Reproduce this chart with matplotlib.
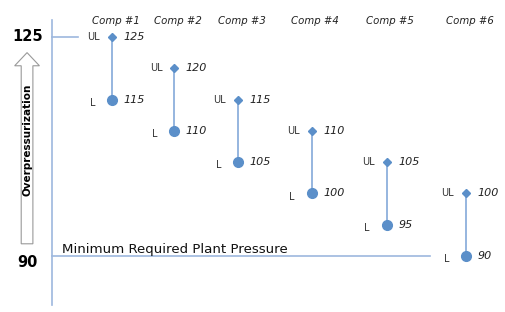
import matplotlib
matplotlib.use("Agg")
import matplotlib.pyplot as plt
from matplotlib.patches import FancyArrow

# data
comps = ["Comp #1", "Comp #2", "Comp #3", "Comp #4", "Comp #5", "Comp #6"]
upper = [125, 120, 115, 110, 105, 100]
lower = [115, 110, 105, 100, 95, 90]
y_ticks = [125, 90]
min_pressure = 90
min_label = "Minimum Required Plant Pressure"
arrow_label = "Overpressurization"

# horizontal placement of the component columns (uneven, as in the slide)
col_x = [1.0, 1.88, 2.78, 3.82, 4.88, 6.0]

blue = "#5b8fc9"
line_blue = "#8eb0dc"
axis_blue = "#9db7de"

fig = plt.figure(figsize=(5.05, 3.12), dpi=100)
ax = fig.add_axes([0, 0, 1, 1])
ax.set_xlim(-0.582, 6.55)
ax.set_ylim(81.05, 130.91)
ax.axis("off")

# axis line and reference lines
ax.plot([0.153, 0.153], [82.2, 127.7], color=axis_blue, lw=1.2)
ax.plot([0.153, 0.52], [125, 125], color=axis_blue, lw=1.2)
ax.plot([0.153, 5.49], [min_pressure, min_pressure], color=axis_blue, lw=1.2)
ax.text(0.29, min_pressure + 0.45, min_label, fontsize=9.6, color="#111111",
        ha="left", va="baseline")

for t in y_ticks:
    ax.text(-0.19, t - (1.0 if t == 90 else 0), str(t), fontsize=10.5,
            fontweight="bold", ha="center", va="center")

# hollow arrow
arr = FancyArrow(-0.2, 91.95, 0, 30.55, width=0.165, head_width=0.35,
                 head_length=2.1, length_includes_head=True,
                 facecolor="white", edgecolor="#999999", lw=0.8)
ax.add_patch(arr)
ax.text(-0.19, 108.5, arrow_label, rotation=90, fontsize=7.5, fontweight="bold",
        ha="center", va="center")

for x, name, u, l in zip(col_x, comps, upper, lower):
    ax.plot([x, x], [l, u], color=line_blue, lw=1.3, zorder=1)
    ax.plot(x, u, marker="D", ms=4, color=blue, zorder=2)
    ax.plot(x, l, marker="o", ms=7, color=blue, zorder=2)
    ax.text(x - 0.17, u, "UL", fontsize=7, color="#333333", ha="right", va="center")
    ax.text(x - 0.24, l - 0.5, "L", fontsize=7, color="#333333", ha="right", va="center")
    ax.text(x + 0.16, u, str(u), fontsize=8, style="italic", color="#222222",
            ha="left", va="center")
    ax.text(x + 0.16, l, str(l), fontsize=8, style="italic", color="#222222",
            ha="left", va="center")
    ax.text(x + 0.05, 127.6, name, fontsize=7.3, style="italic", color="#222222",
            ha="center", va="center")

fig.savefig("out.png", dpi=100, facecolor="white")
